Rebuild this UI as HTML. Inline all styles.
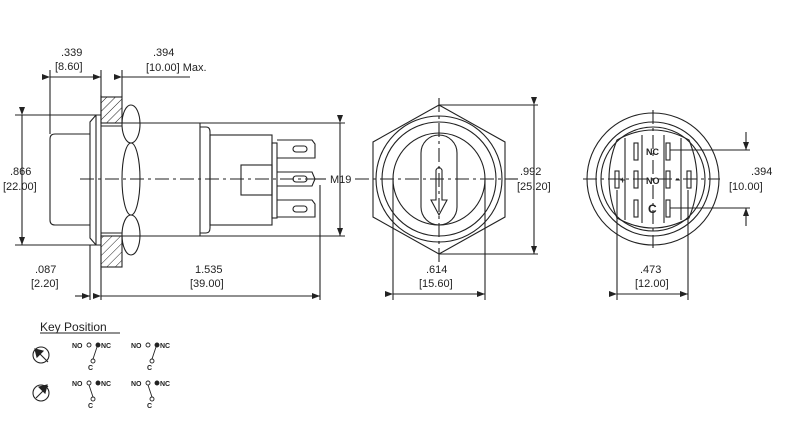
<!DOCTYPE html>
<html><head><style>
html,body{margin:0;padding:0;background:#fff;}
svg{display:block;}
text{font-family:"Liberation Sans",sans-serif;fill:#222;}
</style></head><body>
<svg width="800" height="443" viewBox="0 0 800 443" xmlns="http://www.w3.org/2000/svg">
<defs>
<pattern id="h" width="6" height="6" patternUnits="userSpaceOnUse" patternTransform="rotate(45)">
<line x1="0" y1="0" x2="0" y2="6" stroke="#222" stroke-width="1"/></pattern>
<marker id="a" markerWidth="8" markerHeight="6" refX="8" refY="3" orient="auto" markerUnits="userSpaceOnUse"><path d="M0,0 L8,3 L0,6z" fill="#222"/></marker>
</defs>
<g stroke="#222" stroke-width="1.1" fill="none">
<!-- SIDE VIEW -->
<path d="M90,134 L55,134 Q50,134 50,139 L50,220 Q50,225 55,225 L90,225"/>
<path d="M101,115 L96,115 L90,122 L90,238 L96,245 L101,245"/>
<line x1="96" y1="115" x2="96" y2="245"/>
<rect x="101" y="97" width="21" height="26" fill="url(#h)"/>
<rect x="101" y="236" width="21" height="31" fill="url(#h)"/>
<line x1="101" y1="95" x2="101" y2="270"/>
<ellipse cx="131" cy="124" rx="9" ry="19"/>
<ellipse cx="131" cy="179" rx="9" ry="36"/>
<ellipse cx="131" cy="235" rx="9" ry="20"/>
<line x1="101" y1="123" x2="200" y2="123"/><line x1="101" y1="236" x2="200" y2="236"/>
<line x1="101" y1="126" x2="122" y2="126"/><line x1="101" y1="233" x2="122" y2="233"/>
<path d="M200,123 L200,236"/>
<path d="M200,127 L206,127 Q210,127 210,132 L210,228 Q210,233 206,233 L200,233"/>
<rect x="210" y="135" width="62" height="90"/>
<rect x="241" y="165" width="31" height="30"/>
<rect x="272" y="143" width="5" height="75"/>
<path d="M277,140 L312,140 L315,144 L315,158 L277,158"/>
<path d="M277,172 L312,172 L315,179 L312,186 L277,186"/>
<path d="M277,200 L312,200 L315,204 L315,217 L277,217"/>
<rect x="293" y="146" width="14" height="6" rx="3"/>
<rect x="293" y="176" width="14" height="6" rx="3"/>
<rect x="293" y="206" width="14" height="6" rx="3"/>
<line x1="80" y1="179" x2="322" y2="179" stroke-dasharray="14,4,3,4"/>
<!-- side dims -->
<line x1="50" y1="70" x2="50" y2="134"/><line x1="101" y1="70" x2="101" y2="97"/><line x1="122" y1="70" x2="122" y2="97"/>
<line x1="50" y1="77" x2="101" y2="77" marker-start="url(#a)" marker-end="url(#a)"/>
<line x1="122" y1="77" x2="190" y2="77" marker-start="url(#a)"/>
<line x1="15" y1="115" x2="96" y2="115"/><line x1="15" y1="245" x2="96" y2="245"/>
<line x1="22" y1="115" x2="22" y2="245" marker-start="url(#a)" marker-end="url(#a)"/>
<line x1="200" y1="123" x2="345" y2="123"/><line x1="200" y1="236" x2="345" y2="236"/>
<line x1="340" y1="123" x2="340" y2="236" marker-start="url(#a)" marker-end="url(#a)"/>
<line x1="315" y1="179" x2="326" y2="179"/>
<line x1="90" y1="245" x2="90" y2="300"/><line x1="320" y1="185" x2="320" y2="300"/><line x1="101" y1="268" x2="101" y2="300"/>
<line x1="75" y1="296" x2="90" y2="296" marker-end="url(#a)"/>
<line x1="101" y1="296" x2="320" y2="296" marker-start="url(#a)" marker-end="url(#a)"/>
<!-- FRONT VIEW -->
<polygon points="439,105 505,142 505,217 439,254 373,217 373,142"/>
<circle cx="439" cy="179" r="63"/><circle cx="439" cy="179" r="57"/><circle cx="439" cy="179" r="46"/>
<rect x="421" y="135" width="36" height="90" rx="18"/>
<path d="M436,200 L436,170 Q439,165 442,170 L442,200 L447,200 L439,215 L431,200z"/>
<line x1="355" y1="179" x2="518" y2="179" stroke-dasharray="14,4,3,4"/>
<line x1="439" y1="98" x2="439" y2="262" stroke-dasharray="14,4,3,4"/>
<line x1="439" y1="105" x2="538" y2="105"/><line x1="439" y1="254" x2="538" y2="254"/>
<line x1="534" y1="105" x2="534" y2="254" marker-start="url(#a)" marker-end="url(#a)"/>
<line x1="393" y1="180" x2="393" y2="300"/><line x1="485" y1="180" x2="485" y2="300"/>
<line x1="393" y1="294" x2="485" y2="294" marker-start="url(#a)" marker-end="url(#a)"/>
<!-- REAR VIEW -->
<circle cx="653" cy="179" r="66"/><circle cx="653" cy="179" r="57"/><circle cx="653" cy="179" r="52"/>
<path d="M617,140 Q653,120 689,140 Q705,179 689,218 Q653,238 617,218 Q601,179 617,140z"/>
<line x1="625" y1="138" x2="625" y2="220"/><line x1="681" y1="138" x2="681" y2="220"/>
<line x1="642" y1="135" x2="642" y2="223"/><line x1="664" y1="135" x2="664" y2="223"/>
<rect x="634" y="143" width="4" height="17"/><rect x="666" y="143" width="4" height="17"/>
<rect x="634" y="171" width="4" height="17"/><rect x="666" y="171" width="4" height="17"/>
<rect x="634" y="200" width="4" height="17"/><rect x="666" y="200" width="4" height="17"/>
<rect x="615" y="171" width="4" height="17"/><rect x="687" y="171" width="4" height="17"/>
<line x1="583" y1="179" x2="720" y2="179" stroke-dasharray="14,4,3,4"/>
<line x1="653" y1="110" x2="653" y2="248" stroke-dasharray="14,4,3,4"/>
<line x1="670" y1="150" x2="750" y2="150"/><line x1="670" y1="208" x2="750" y2="208"/>
<line x1="746" y1="132" x2="746" y2="150" marker-end="url(#a)"/>
<line x1="746" y1="226" x2="746" y2="208" marker-end="url(#a)"/>
<line x1="617" y1="190" x2="617" y2="300"/><line x1="688" y1="190" x2="688" y2="300"/>
<line x1="617" y1="294" x2="688" y2="294" marker-start="url(#a)" marker-end="url(#a)"/>
<!-- KEY POSITION -->
<line x1="40" y1="333" x2="120" y2="333"/>
<circle cx="41" cy="355" r="8"/><circle cx="41" cy="393" r="8"/>
<line x1="36" y1="350" x2="48" y2="362"/><path d="M35,349 L43,351 L37,357z" fill="#222"/>
<line x1="36" y1="398" x2="48" y2="386"/><path d="M47,385 L45,393 L39,387z" fill="#222"/>
</g>
<g font-size="11">
<text x="61" y="56">.339</text><text x="55" y="70">[8.60]</text>
<text x="153" y="56">.394</text><text x="146" y="71">[10.00] Max.</text>
<text x="10" y="175">.866</text><text x="3" y="190">[22.00]</text>
<text x="330" y="183">M19</text>
<text x="35" y="273">.087</text><text x="31" y="287">[2.20]</text>
<text x="195" y="273">1.535</text><text x="190" y="287">[39.00]</text>
<text x="520" y="175">.992</text><text x="517" y="190">[25.20]</text>
<text x="426" y="273">.614</text><text x="419" y="287">[15.60]</text>
<text x="751" y="175">.394</text><text x="729" y="190">[10.00]</text>
<text x="640" y="273">.473</text><text x="635" y="287">[12.00]</text>
<text x="40" y="331" font-size="12">Key Position</text>
</g>
<g font-size="9" font-family="Liberation Serif" font-weight="bold">
<text x="646" y="155">NC</text><text x="646" y="184">NO</text><text x="648" y="213" font-size="12">C</text>
<text x="620" y="183">+</text><text x="675" y="183">−</text>
</g>
<g font-size="7" font-weight="bold" stroke="#222" stroke-width="0.9" fill="none">
<g>
<text x="72" y="348" stroke="none" fill="#222">NO</text><circle cx="89" cy="345" r="2"/><circle cx="98" cy="345" r="2" fill="#222"/><text x="101" y="348" stroke="none" fill="#222">NC</text>
<line x1="97" y1="347" x2="93" y2="359"/><circle cx="93" cy="361" r="2"/><text x="88" y="370" stroke="none" fill="#222">C</text>
</g>
<g transform="translate(59,0)">
<text x="72" y="348" stroke="none" fill="#222">NO</text><circle cx="89" cy="345" r="2"/><circle cx="98" cy="345" r="2" fill="#222"/><text x="101" y="348" stroke="none" fill="#222">NC</text>
<line x1="97" y1="347" x2="93" y2="359"/><circle cx="93" cy="361" r="2"/><text x="88" y="370" stroke="none" fill="#222">C</text>
</g>
<g transform="translate(0,38)">
<text x="72" y="348" stroke="none" fill="#222">NO</text><circle cx="89" cy="345" r="2"/><circle cx="98" cy="345" r="2" fill="#222"/><text x="101" y="348" stroke="none" fill="#222">NC</text>
<line x1="89" y1="347" x2="93" y2="359"/><circle cx="93" cy="361" r="2"/><text x="88" y="370" stroke="none" fill="#222">C</text>
</g>
<g transform="translate(59,38)">
<text x="72" y="348" stroke="none" fill="#222">NO</text><circle cx="89" cy="345" r="2"/><circle cx="98" cy="345" r="2" fill="#222"/><text x="101" y="348" stroke="none" fill="#222">NC</text>
<line x1="89" y1="347" x2="93" y2="359"/><circle cx="93" cy="361" r="2"/><text x="88" y="370" stroke="none" fill="#222">C</text>
</g>
</g>
</svg>
</body></html>
